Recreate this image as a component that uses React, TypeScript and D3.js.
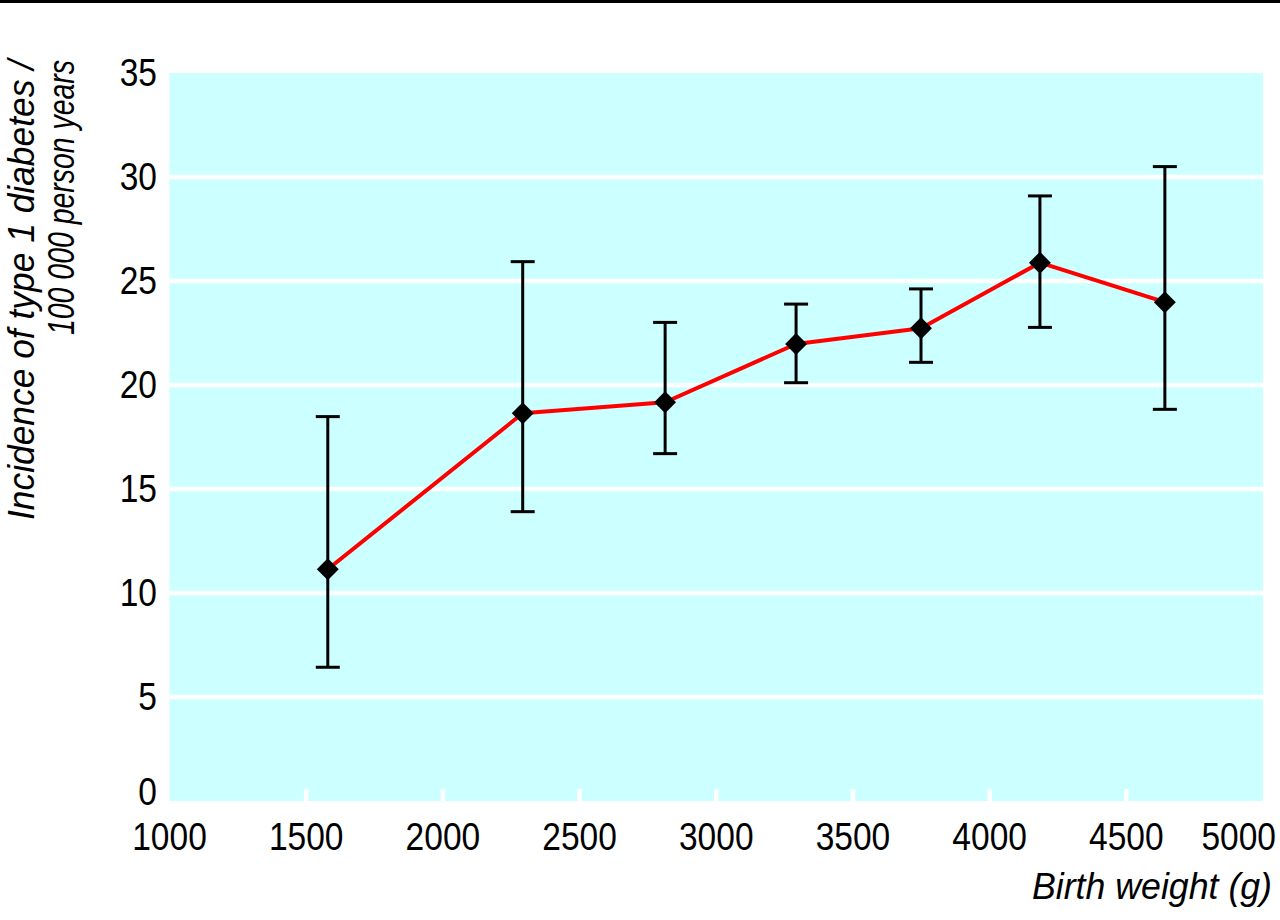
import React from "react";
import * as d3 from "d3";

const birthWeight = [1579, 2292, 2813, 3292, 3749, 4184, 4641];
const incidence = [11.14, 18.64, 19.17, 21.97, 22.73, 25.88, 23.98];
const ciUpper = [18.48, 25.93, 23.01, 23.89, 24.62, 29.09, 30.5];
const ciLower = [6.43, 13.91, 16.7, 20.11, 21.09, 22.77, 18.83];
const xTicks = [1000, 1500, 2000, 2500, 3000, 3500, 4000, 4500, 5000];
const yTicks = [0, 5, 10, 15, 20, 25, 30, 35];
const yTitleLines = ["Incidence of type 1 diabetes /", "100 000 person years"];
const xTitle = "Birth weight (g)";

const W = 1280;
const H = 920;
const FONT = "'Liberation Sans', Arial, sans-serif";
const SX = 0.86;

function CText(props: {
  x: number;
  y: number;
  anchor: "start" | "middle" | "end";
  size: number;
  children: React.ReactNode;
}) {
  return (
    <text
      transform={`translate(${props.x},${props.y}) scale(${SX},1)`}
      textAnchor={props.anchor}
      fontSize={props.size}
      fill="#000"
    >
      {props.children}
    </text>
  );
}

export default function App() {
  const x = d3.scaleLinear().domain([1000, 5000]).range([169.5, 1263]);
  const y = d3.scaleLinear().domain([0, 35]).range([801, 73]);
  const pts = birthWeight.map((b, i) => ({ b, v: incidence[i], hi: ciUpper[i], lo: ciLower[i] }));
  const line = d3
    .line<{ b: number; v: number }>()
    .x((d) => x(d.b))
    .y((d) => y(d.v));
  const diamond = d3.symbol().type(d3.symbolSquare).size(240)();

  return (
    <svg
      width={W}
      height={H}
      style={{ position: "absolute", left: 0, top: 0, background: "#fff" }}
      fontFamily={FONT}
    >
      <rect x={0} y={0} width={W} height={H} fill="#fff" />
      <rect x={0} y={0} width={W} height={3} fill="#000" />
      <rect x={x(1000)} y={y(35)} width={x(5000) - x(1000)} height={y(0) - y(35)} fill="#ccffff" />
      {yTicks
        .filter((t) => t > 0 && t < 35)
        .map((t) => (
          <line key={"g" + t} x1={x(1000)} x2={x(5000)} y1={y(t)} y2={y(t)} stroke="#fff" strokeWidth={4.5} />
        ))}
      {xTicks
        .filter((t) => t > 1000 && t < 5000)
        .map((t) => (
          <line key={"xt" + t} x1={x(t)} x2={x(t)} y1={y(0) - 12} y2={y(0)} stroke="#fff" strokeWidth={4.5} />
        ))}
      {xTicks.map((t, i) => {
        const last = i === xTicks.length - 1;
        return (
          <CText key={"xl" + t} x={last ? 1276 : x(t)} y={850} anchor={last ? "end" : "middle"} size={39}>
            {t}
          </CText>
        );
      })}
      {yTicks.map((t) => (
        <CText key={"yl" + t} x={157} y={t === 0 ? 805 : y(t) + 13} anchor="end" size={39}>
          {t}
        </CText>
      ))}
      {pts.map((p, i) => (
        <g key={"e" + i} stroke="#000" strokeWidth={3}>
          <line x1={x(p.b)} x2={x(p.b)} y1={y(p.hi)} y2={y(p.lo)} />
          <line x1={x(p.b) - 12} x2={x(p.b) + 12} y1={y(p.hi)} y2={y(p.hi)} />
          <line x1={x(p.b) - 12} x2={x(p.b) + 12} y1={y(p.lo)} y2={y(p.lo)} />
        </g>
      ))}
      <path d={line(pts) || ""} fill="none" stroke="#ff0000" strokeWidth={4} strokeLinejoin="round" />
      {pts.map((p, i) => (
        <path key={"m" + i} d={diamond || ""} transform={`translate(${x(p.b)},${y(p.v)}) rotate(45)`} fill="#000" />
      ))}
      <g transform="translate(34,60) rotate(-90)">
        <text x={0} y={0} textAnchor="end" fontSize={36} fontStyle="italic" fill="#000" textLength={460} lengthAdjust="spacingAndGlyphs">
          {yTitleLines[0]}
        </text>
        <text x={0} y={40} textAnchor="end" fontSize={36} fontStyle="italic" fill="#000" textLength={275} lengthAdjust="spacingAndGlyphs">
          {yTitleLines[1]}
        </text>
      </g>
      <text x={1272} y={899} textAnchor="end" fontSize={37} fontStyle="italic" fill="#000" textLength={240} lengthAdjust="spacingAndGlyphs">
        {xTitle}
      </text>
    </svg>
  );
}
